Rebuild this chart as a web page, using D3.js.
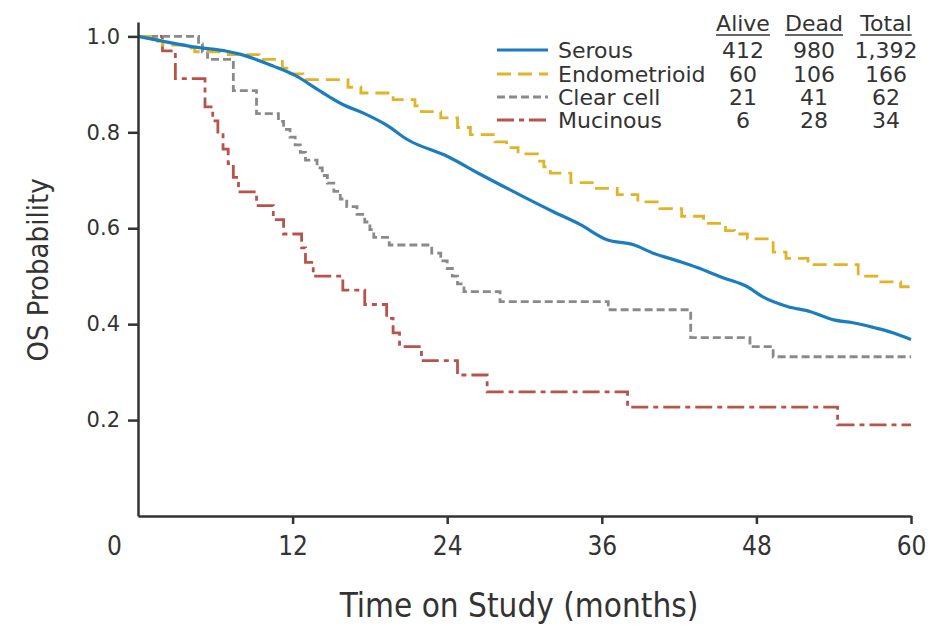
<!DOCTYPE html>
<html>
<head>
<meta charset="utf-8">
<script src="https://cdn.jsdelivr.net/npm/d3@7"></script>
<style>
  body { margin: 0; background: #fff; }
  .axis path, .axis line { stroke: #333; stroke-width: 2.5; }
  .axis text { fill: #333; }
  .narrow { font-family: "Liberation Sans Narrow", "DejaVu Sans Condensed", sans-serif; font-stretch: condensed; }
  .legend text { font-family: "DejaVu Sans", sans-serif; font-size: 22px; fill: #333; }
</style>
</head>
<body>
<svg id="km_chart"></svg>
<script>
let width = 945;
let height = 626;
let margin = {top: 22, right: 34, bottom: 110, left: 138};

// x ticks (months) and y ticks (probability)
const monthTicks = [0, 12, 24, 36, 48, 60];
const probTicks = [0.2, 0.4, 0.6, 0.8, 1.0];

// Serous (drawn as a line)
const serousT = [0, 1.9, 4.6, 6.9, 7.9, 10.5, 12.3, 13.9, 15.9, 17.5, 19.3, 20.9, 24.0, 26.6, 29.9, 32.2, 34.3, 36.4, 38.4, 40.0, 42.1, 43.4, 45.4, 47.3, 48.5, 50.4, 52.2, 54.0, 55.5, 57.1, 58.6, 60];
const serousP = [1.0, 0.99, 0.977, 0.969, 0.963, 0.938, 0.917, 0.89, 0.858, 0.84, 0.815, 0.785, 0.75, 0.712, 0.666, 0.635, 0.608, 0.576, 0.566, 0.548, 0.53, 0.518, 0.497, 0.478, 0.457, 0.437, 0.426, 0.409, 0.403, 0.393, 0.382, 0.368];

// Endometrioid steps
const endoT = [0, 1.5, 1.9, 3.6, 4.4, 7.0, 9.4, 11.2, 11.8, 12.8, 16.3, 17.3, 19.8, 21.5, 22.0, 23.5, 24.8, 25.8, 27.7, 28.6, 29.5, 31.0, 31.5, 32.0, 33.6, 35.4, 37.2, 38.8, 40.5, 42.2, 43.9, 45.6, 46.3, 47.3, 49.3, 50.3, 52.0, 55.9, 57.5, 59.2, 60];
const endoP = [1.0, 0.99, 0.982, 0.976, 0.968, 0.962, 0.952, 0.934, 0.922, 0.91, 0.894, 0.882, 0.868, 0.855, 0.843, 0.83, 0.81, 0.795, 0.78, 0.768, 0.755, 0.74, 0.728, 0.715, 0.695, 0.683, 0.67, 0.655, 0.641, 0.625, 0.61, 0.595, 0.588, 0.578, 0.55, 0.537, 0.524, 0.5, 0.488, 0.478, 0.478];

// Clear cell steps
const clearT = [0, 4.7, 5.0, 5.4, 7.4, 9.2, 10.9, 11.3, 11.8, 12.2, 12.6, 13.0, 13.9, 14.3, 14.7, 15.2, 15.7, 16.2, 17.0, 17.6, 18.0, 18.3, 19.5, 22.8, 23.5, 24.0, 24.4, 24.8, 25.3, 28.1, 36.5, 42.9, 47.5, 49.3, 60];
const clearP = [1.0, 0.984, 0.968, 0.952, 0.887, 0.839, 0.823, 0.806, 0.79, 0.774, 0.758, 0.742, 0.726, 0.71, 0.694, 0.677, 0.661, 0.645, 0.629, 0.613, 0.597, 0.581, 0.565, 0.548, 0.532, 0.516, 0.5, 0.484, 0.468, 0.447, 0.43, 0.372, 0.353, 0.332, 0.332];

// Mucinous steps
const mucT = [0, 1.9, 2.9, 5.2, 5.8, 6.2, 6.6, 7.0, 7.4, 7.8, 9.2, 10.5, 11.3, 12.7, 13.0, 13.6, 15.9, 17.6, 19.3, 19.8, 20.3, 22.0, 24.8, 27.1, 38.0, 54.3, 60];
const mucP = [1.0, 0.97, 0.912, 0.853, 0.824, 0.795, 0.765, 0.735, 0.706, 0.676, 0.647, 0.618, 0.588, 0.559, 0.529, 0.5, 0.471, 0.441, 0.412, 0.382, 0.353, 0.324, 0.294, 0.259, 0.227, 0.19, 0.19];

// legend table
const groupNames = ["Serous", "Endometrioid", "Clear cell", "Mucinous"];
const aliveN = ["412", "60", "21", "6"];
const deadN = ["980", "106", "41", "28"];
const totalN = ["1,392", "166", "62", "34"];
const colHeads = ["Alive", "Dead", "Total"];

const colors = ["#1b7dbf", "#e2b227", "#8a8a8a", "#b8534c"];
const dashes = [null, "14,7", "8,4", "17,5,5,5"];
const widths = [3.2, 2.8, 2.8, 2.8];
const curves = [d3.curveMonotoneX, d3.curveStepAfter, d3.curveStepAfter, d3.curveStepAfter];

let series = [
    {name: groupNames[0], t: serousT, p: serousP},
    {name: groupNames[1], t: endoT, p: endoP},
    {name: groupNames[2], t: clearT, p: clearP},
    {name: groupNames[3], t: mucT, p: mucP}
].map(s => ({name: s.name, stat: s.t.map((d, i) => ({t: d, p: s.p[i]}))}));

let svg = d3.select('#km_chart').attr('width', width).attr('height', height);

let xScale = d3.scaleLinear().domain([0, 60]).range([margin.left, width - margin.right]);
let yScale = d3.scaleLinear().domain([0, 1.03]).range([height - margin.bottom, margin.top]);

// lines, drawn back to front: mucinous, clear cell, endometrioid, serous
let g = svg.append('g').classed('lines', true);
[3, 2, 1, 0].forEach(i => {
    let line = d3.line()
        .x(d => xScale(d.t))
        .y(d => yScale(d.p))
        .curve(curves[i]);
    g.append('path')
        .attr('d', line(series[i].stat))
        .attr('fill', 'none')
        .attr('stroke', colors[i])
        .attr('stroke-width', widths[i])
        .attr('stroke-dasharray', dashes[i]);
});

// Axes
let xAxis = d3.axisBottom(xScale)
    .tickValues(monthTicks)
    .tickSize(8)
    .tickSizeOuter(0)
    .tickPadding(13);
let gx = svg.append('g')
    .attr('class', 'axis narrow')
    .attr('transform', 'translate(0,' + (height - margin.bottom) + ')')
    .call(xAxis);
gx.selectAll('text').attr('font-size', 26).attr('font-family', null);
gx.selectAll('.tick').filter(d => d === 0).select('line').remove();
gx.selectAll('.tick').filter(d => d === 0).select('text').attr('x', -24);

let yAxis = d3.axisLeft(yScale)
    .tickValues(probTicks)
    .tickFormat(d3.format('.1f'))
    .tickSize(10)
    .tickSizeOuter(0)
    .tickPadding(8);
let gy = svg.append('g')
    .attr('class', 'axis')
    .attr('transform', 'translate(' + margin.left + ',0)')
    .call(yAxis);
gy.selectAll('text')
    .attr('font-size', 21)
    .attr('font-family', '"DejaVu Sans", sans-serif');

// Axis titles
svg.append('text')
    .attr('class', 'narrow')
    .attr('transform', 'translate(' + 48 + ',' + 270 + ') rotate(-90)')
    .attr('text-anchor', 'middle')
    .attr('font-size', 29)
    .attr('fill', '#333')
    .text('OS Probability');
svg.append('text')
    .attr('class', 'narrow')
    .attr('x', 519)
    .attr('y', 617)
    .attr('text-anchor', 'middle')
    .attr('font-size', 33)
    .attr('fill', '#333')
    .text('Time on Study (months)');

// Legend table
let legend = svg.append('g').attr('class', 'legend');
let colX = [743, 814, 886];
let headY = 31;
let rowY = [58, 82, 105, 128];

colHeads.forEach((h, i) => {
    let t = legend.append('text')
        .attr('x', colX[i])
        .attr('y', headY)
        .attr('text-anchor', 'middle')
        .text(h);
    let w = t.node().getComputedTextLength();
    legend.append('line')
        .attr('x1', colX[i] - w / 2)
        .attr('x2', colX[i] + w / 2)
        .attr('y1', headY + 4)
        .attr('y2', headY + 4)
        .attr('stroke', '#333')
        .attr('stroke-width', 1.5);
});

groupNames.forEach((name, i) => {
    let row = legend.append('g').attr('transform', 'translate(0,' + rowY[i] + ')');
    row.append('line')
        .attr('x1', 497)
        .attr('x2', 548)
        .attr('y1', -8)
        .attr('y2', -8)
        .attr('stroke', colors[i])
        .attr('stroke-width', widths[i])
        .attr('stroke-dasharray', dashes[i]);
    row.append('text').attr('x', 558).text(name);
    [aliveN[i], deadN[i], totalN[i]].forEach((v, j) => {
        row.append('text')
            .attr('x', colX[j])
            .attr('text-anchor', 'middle')
            .text(v);
    });
});
</script>
</body>
</html>
